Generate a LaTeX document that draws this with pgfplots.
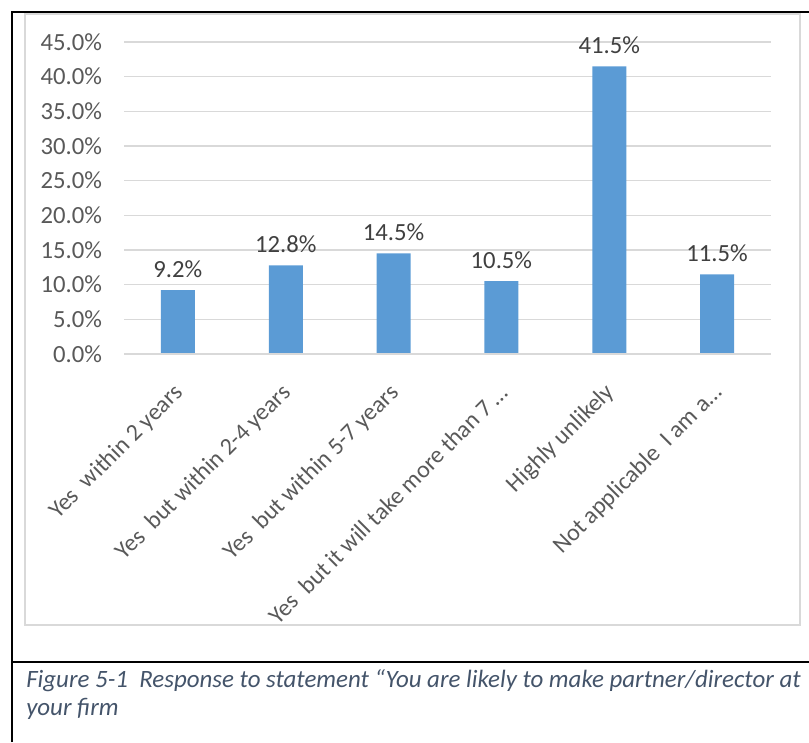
\documentclass[border=0pt]{standalone}
\usepackage{pgfplots}
\pgfplotsset{compat=1.18}
\usepackage{fontspec}
\setmainfont{Carlito}
\definecolor{barblue}{HTML}{5B9BD5}
\definecolor{gridgray}{HTML}{D9D9D9}
\definecolor{ticktext}{HTML}{595959}
\definecolor{labtext}{HTML}{404040}
\definecolor{captext}{HTML}{44546A}
\begin{document}
\begin{tikzpicture}[x=0.75pt,y=0.75pt]
\path[use as bounding box] (0,0) rectangle (809,742);
% outer frame
\draw[line width=1.5pt] (11.5,0) -- (11.5,730) -- (809,730);
\draw[line width=1.5pt] (11.5,80) -- (809,80);
% chart area border
\draw[gridgray, line width=0.9pt] (25,117) rectangle (800,728);
\begin{axis}[
  at={(93pt,291pt)}, anchor=south west,
  scale only axis,
  width=485.25pt, height=234pt,
  xmin=-0.5, xmax=5.5,
  ymin=0, ymax=45,
  ytick={0,5,...,45},
  yticklabel={\pgfmathprintnumber[fixed,fixed zerofill,precision=1]{\tick}\%},
  /pgf/number format/assume math mode=true,
  xtick={0,1,2,3,4,5},
  xticklabels={{Yes\ \ within 2 years},{Yes\ \ but within 2-4 years},{Yes\ \ but within 5-7 years},{Yes\ \ but it will take more than 7\,…},{Highly unlikely},{Not applicable\ \ I am a…}},
  axis line style={draw=none},
  major tick length=0pt,
  ymajorgrids,
  grid style={gridgray, line width=0.8pt},
  tick label style={text=ticktext},
  yticklabel style={font=\fontsize{18.5}{22}\selectfont, xshift=-13pt},
  xticklabel style={font=\fontsize{18}{22}\selectfont, rotate=45, anchor=east, xshift=-14.3pt, yshift=-19.5pt},
  nodes near coords={\pgfmathprintnumber[fixed,fixed zerofill,precision=1]{\pgfplotspointmeta}\%},
  every node near coord/.append style={font=\fontsize{18.5}{22}\selectfont, text=labtext, yshift=6pt},
  clip=false,
]
\addplot[ybar, bar width=25.5pt, fill=barblue, draw=none] coordinates {
  (0,9.2) (1,12.8) (2,14.5) (3,10.5) (4,41.5) (5,11.5)
};
\draw[gridgray, line width=0.8pt] (axis cs:-0.5,0) -- (axis cs:5.5,0);
\end{axis}
\node[anchor=base west, inner sep=0pt, text=captext, font=\fontsize{18.7}{22}\selectfont\itshape] at (26,55) {Figure 5-1\ \ Response to statement “You are likely to make partner/director at};
\node[anchor=base west, inner sep=0pt, text=captext, font=\fontsize{18.7}{22}\selectfont\itshape] at (26,27) {your firm};
\end{tikzpicture}
\end{document}
